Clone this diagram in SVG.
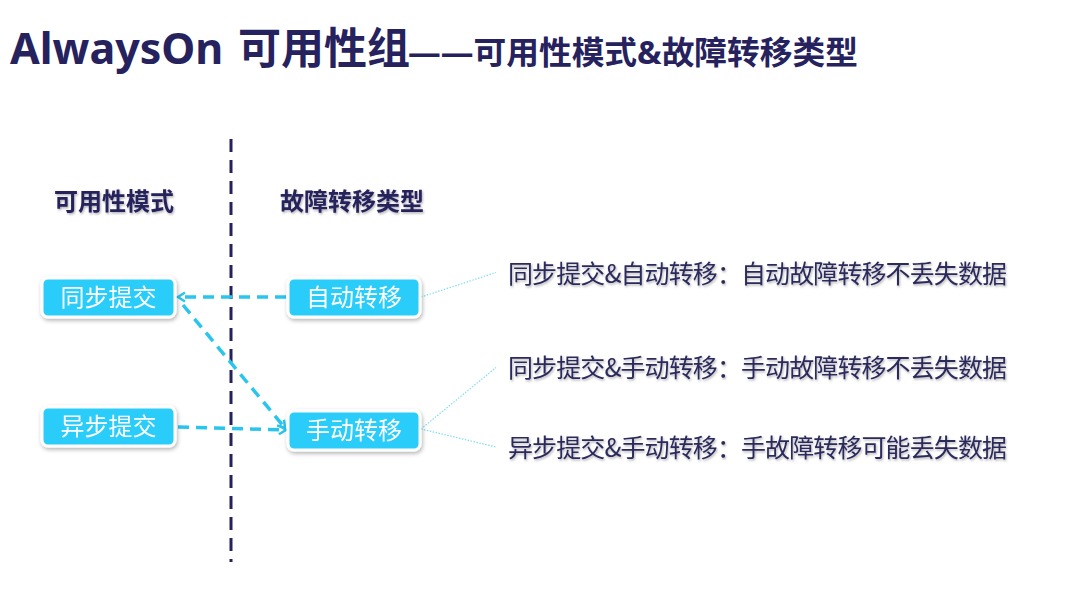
<svg xmlns="http://www.w3.org/2000/svg" width="1067" height="604" viewBox="0 0 1067 604">
  <style>
    .title { font-family: "Noto Sans", "Noto Sans CJK SC", sans-serif; font-weight: bold; fill: #26225e; }
    .head { font-family: "Noto Sans CJK SC", sans-serif; font-weight: bold; font-size: 24px; fill: #25205c; }
    .box { fill: #29ccf9; stroke: #ffffff; stroke-width: 3; }
    .ntext { font-family: "Noto Sans CJK SC", sans-serif; font-size: 24px; fill: #ffffff; text-anchor: middle; }
    .desc { font-family: "Noto Sans CJK SC", sans-serif; font-size: 25px; fill: #2c2a5c; }
    .dash { fill: none; stroke: #2ac5ef; stroke-width: 3.5; stroke-dasharray: 11 7; }
    .dot { fill: none; stroke: #7fdcf5; stroke-width: 1.2; stroke-dasharray: 1.5 1.5; }
  </style>
  <defs>
    <filter id="shadow" x="-20%" y="-30%" width="140%" height="170%">
      <feDropShadow dx="1" dy="2" stdDeviation="2" flood-color="#000" flood-opacity="0.3"/>
    </filter>
    <filter id="tshadow" x="-5%" y="-20%" width="110%" height="150%">
      <feDropShadow dx="1" dy="1.5" stdDeviation="1" flood-color="#000" flood-opacity="0.3"/>
    </filter>
    <marker id="chev" markerUnits="userSpaceOnUse" markerWidth="12" markerHeight="12" refX="9" refY="6" orient="auto">
      <path d="M2,1.5 L9,6 L2,10.5" fill="none" stroke="#2ac5ef" stroke-width="2.5"/>
    </marker>
  </defs>
  <rect width="1067" height="604" fill="#ffffff"/>

  <g id="title">
    <text class="title" x="10" y="64" font-size="43">AlwaysOn</text>
    <text class="title" x="238" y="64" font-size="43">可用性组</text>
    <text class="title" x="408" y="64" font-size="32" textLength="450" lengthAdjust="spacingAndGlyphs">——可用性模式&amp;故障转移类型</text>
  </g>

  <g id="divider">
    <line x1="231" y1="139" x2="231" y2="562" stroke="#24215c" stroke-width="3" stroke-dasharray="13 8"/>
  </g>

  <g id="headings">
    <text class="head" x="54" y="210" filter="url(#tshadow)">可用性模式</text>
    <text class="head" x="280" y="210" filter="url(#tshadow)">故障转移类型</text>
  </g>

  <g id="connectors">
    <path class="dash" d="M286,297 L178,297" marker-end="url(#chev)"/>
    <path class="dash" d="M183,305 L285,428" marker-end="url(#chev)"/>
    <path class="dash" d="M178,427 L286,430" marker-end="url(#chev)"/>
    <path class="dot" d="M421,297 L496,272.5"/>
    <path class="dot" d="M421,429 L496,367.5"/>
    <path class="dot" d="M421,429 L496,447"/>
  </g>

  <g id="node-sync" filter="url(#shadow)">
    <rect class="box" x="42" y="278" width="133" height="39" rx="6"/>
    <text class="ntext" x="108.5" y="305.5">同步提交</text>
  </g>
  <g id="node-async" filter="url(#shadow)">
    <rect class="box" x="42" y="407" width="133" height="39" rx="6"/>
    <text class="ntext" x="108.5" y="435">异步提交</text>
  </g>
  <g id="node-auto" filter="url(#shadow)">
    <rect class="box" x="288" y="278" width="132" height="39" rx="6"/>
    <text class="ntext" x="354" y="305.5">自动转移</text>
  </g>
  <g id="node-manual" filter="url(#shadow)">
    <rect class="box" x="288" y="411" width="132" height="39" rx="6"/>
    <text class="ntext" x="354" y="439">手动转移</text>
  </g>

  <g id="descriptions" filter="url(#tshadow)">
    <text class="desc" x="508" y="283" textLength="499" lengthAdjust="spacing">同步提交&amp;自动转移：自动故障转移不丢失数据</text>
    <text class="desc" x="508" y="377" textLength="499" lengthAdjust="spacing">同步提交&amp;手动转移：手动故障转移不丢失数据</text>
    <text class="desc" x="508" y="457" textLength="499" lengthAdjust="spacing">异步提交&amp;手动转移：手故障转移可能丢失数据</text>
  </g>
</svg>
